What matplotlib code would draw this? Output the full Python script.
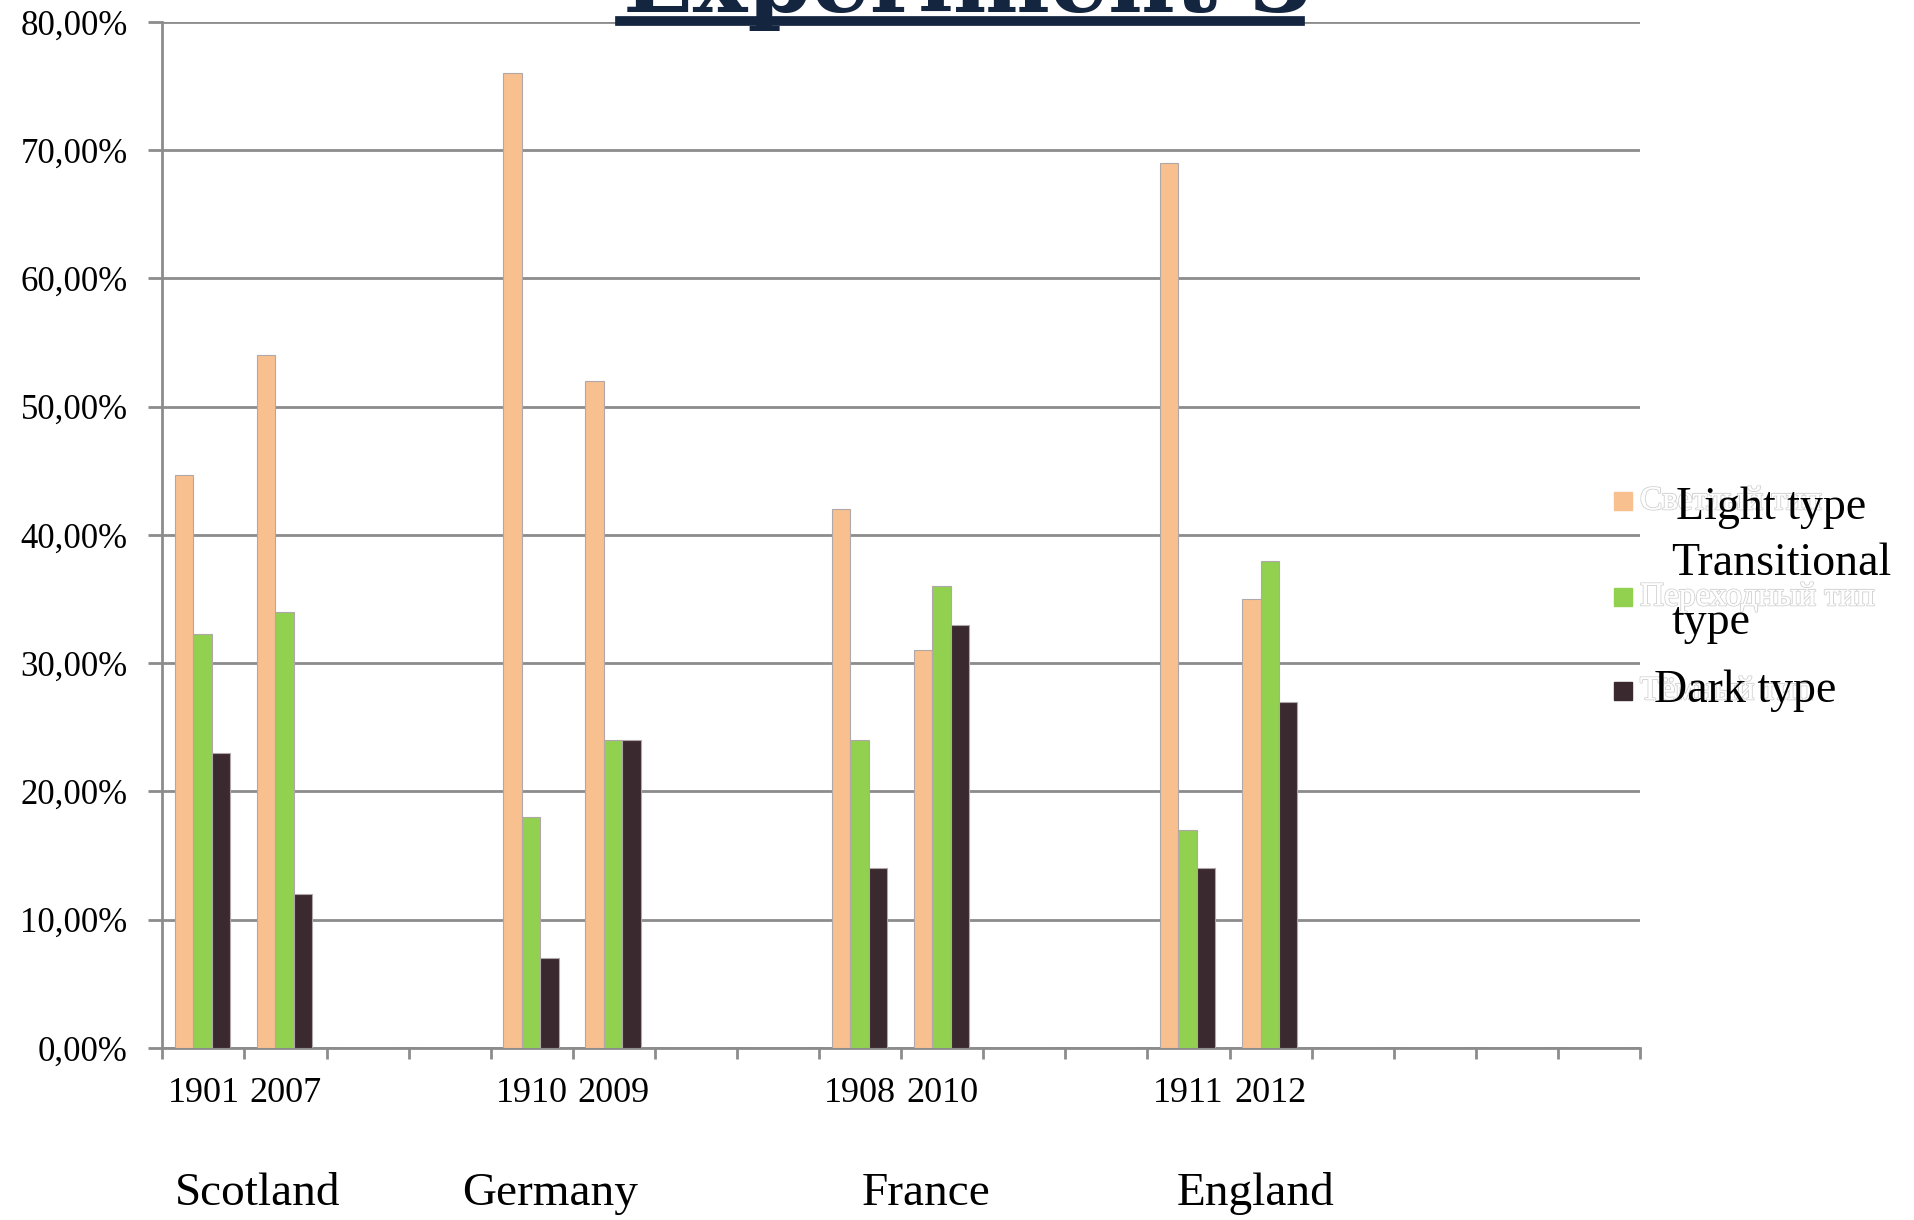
import matplotlib
matplotlib.use('Agg')
import matplotlib.pyplot as plt
import matplotlib.patheffects as pe
from matplotlib.patches import Rectangle
from matplotlib.lines import Line2D
import numpy as np

# 18 category slots, only some of them carry data
years = ['1901', '2007', '', '', '1910', '2009', '', '', '1908', '2010', '', '',
         '1911', '2012', '', '', '', '']
light = [44.7, 54, 0, 0, 76, 52, 0, 0, 42, 31, 0, 0, 69, 35, 0, 0, 0, 0]
transitional = [32.3, 34, 0, 0, 18, 24, 0, 0, 24, 36, 0, 0, 17, 38, 0, 0, 0, 0]
dark = [23, 12, 0, 0, 7, 24, 0, 0, 14, 33, 0, 0, 14, 27, 0, 0, 0, 0]
countries = ['Scotland', 'Germany', 'France', 'England']
country_x = [0.66, 4.22, 8.80, 12.82]

series_names = ['Light type', 'Transitional\ntype', 'Dark type']
ghost_names = ['Светлый тип', 'Переходный тип', 'Тёмный тип']
colors = ['#f9c08f', '#92d050', '#3a2a2f']

plt.rcParams['font.family'] = ['Liberation Serif', 'DejaVu Serif']

fig = plt.figure(figsize=(19.15, 12.2), dpi=100)
ax = fig.add_axes([0.0848, 0.141, 0.7716, 0.841])

x = np.arange(len(years))
w = 0.225
for i, vals in enumerate([light, transitional, dark]):
    ax.bar(x + (i - 1) * w - 0.01, vals, width=w, color=colors[i],
           edgecolor='#b0a8a8', linewidth=0.8, zorder=3)

ax.set_xlim(-0.5, len(years) - 0.5)
ax.set_ylim(0, 80)
ax.set_yticks(np.arange(0, 81, 10))
ax.set_yticklabels([f'{v:.2f}%'.replace('.', ',') for v in np.arange(0, 81, 10)])
ax.yaxis.grid(True, color='#8c8c8c', linewidth=2.0, zorder=0)

ax.set_xticks(np.arange(-0.5, len(years), 1))
ax.set_xticklabels([])
ax.set_xticks(x, minor=True)
ax.set_xticklabels(years, minor=True)
ax.tick_params(axis='x', which='major', length=8, width=2, color='#8c8c8c', direction='out')
ax.tick_params(axis='x', which='minor', length=0, pad=21, labelsize=26)
ax.tick_params(axis='y', length=10, width=2, color='#8c8c8c', pad=15, labelsize=25)

for s in ['top', 'right']:
    ax.spines[s].set_visible(False)
for s in ['left', 'bottom']:
    ax.spines[s].set_color('#8c8c8c')
    ax.spines[s].set_linewidth(2)

for name, cx in zip(countries, country_x):
    ax.text(cx, -0.142, name, transform=ax.get_xaxis_transform(),
            ha='center', va='center', fontsize=34)

# title, mostly cut off by the top edge of the picture
fig.text(0.5055, 1 - 12 / 1220, 'Experiment 3', ha='center', va='baseline',
         fontsize=66, fontweight='bold', color='#13253f', family='DejaVu Serif')
fig.add_artist(Line2D([620 / 1915, 1300 / 1915], [1 - 21 / 1220] * 2,
                      color='#13253f', linewidth=7, transform=fig.transFigure))

# legend drawn by hand, with the faded Russian labels underneath
sq_y = [501, 597, 691]
for i in range(3):
    fig.add_artist(Rectangle(((1623 - 9) / 1915, 1 - (sq_y[i] + 9) / 1220),
                             18 / 1915, 18 / 1220, color=colors[i],
                             transform=fig.transFigure))
    t = fig.text(1640 / 1915, 1 - sq_y[i] / 1220, ghost_names[i], ha='left',
                 va='center', fontsize=24, color='white')
    t.set_path_effects([pe.withStroke(linewidth=1.5, foreground='#d4d4d4'), pe.Normal()])

fig.text(1676 / 1915, 1 - 508 / 1220, 'Light type', ha='left', va='center', fontsize=33)
fig.text(1671 / 1915, 1 - 564 / 1220, 'Transitional', ha='left', va='center', fontsize=33)
fig.text(1671 / 1915, 1 - 623 / 1220, 'type', ha='left', va='center', fontsize=33)
fig.text(1654 / 1915, 1 - 691 / 1220, 'Dark type', ha='left', va='center', fontsize=33)

fig.savefig('out.png', dpi=100)
